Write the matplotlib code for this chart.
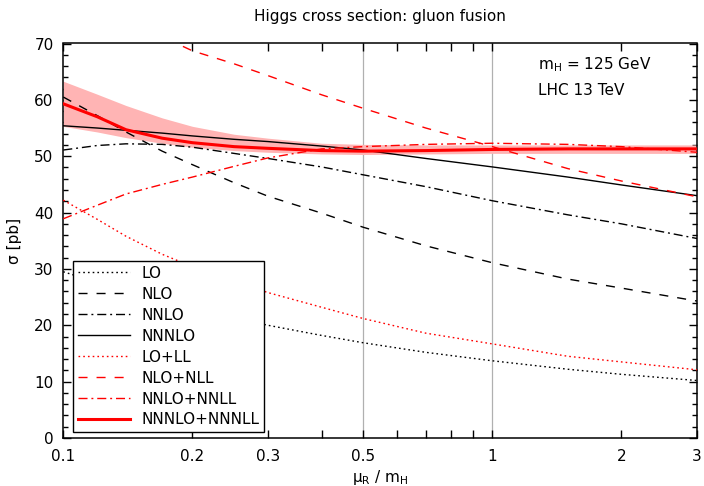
import matplotlib
matplotlib.use('Agg')
import matplotlib.pyplot as plt
from matplotlib.ticker import FixedLocator, NullFormatter, MultipleLocator, FixedFormatter

plt.rcParams['font.family'] = ['DejaVu Sans']
plt.rcParams['font.size'] = 11
plt.rcParams['lines.scale_dashes'] = False

# renormalisation scale mu_R / m_H
mu = [0.1, 0.12, 0.14, 0.17, 0.2, 0.25, 0.3, 0.4, 0.5, 0.7, 1.0, 1.5, 2.0, 3.0]

lo        = [29.5, 27.6, 26.1, 24.4, 23.0, 21.3, 20.0, 18.2, 16.9, 15.2, 13.7, 12.2, 11.3, 10.2]
nlo       = [60.5, 57.2, 54.3, 50.9, 48.5, 45.3, 42.9, 39.9, 37.4, 34.1, 31.1, 28.2, 26.6, 24.3]
nnlo      = [51.1, 51.9, 52.2, 52.1, 51.6, 50.5, 49.6, 48.1, 46.7, 44.6, 42.1, 39.6, 38.0, 35.4]
nnnlo     = [55.4, 55.0, 54.6, 54.1, 53.6, 53.0, 52.6, 51.8, 51.1, 49.6, 48.1, 46.3, 44.9, 43.0]
lo_ll     = [42.2, 38.8, 35.8, 32.6, 30.4, 27.8, 25.8, 23.2, 21.2, 18.6, 16.7, 14.5, 13.5, 12.1]
nlo_nll   = [84.0, 79.0, 75.5, 71.2, 68.7, 66.4, 64.3, 60.9, 58.5, 55.0, 51.7, 47.8, 45.6, 42.8]
nnlo_nnll = [38.9, 41.3, 43.3, 45.0, 46.3, 48.2, 49.7, 51.3, 51.7, 52.1, 52.3, 52.1, 51.7, 50.7]
n3lo_n3ll = [59.3, 57.0, 54.7, 53.2, 52.4, 51.7, 51.4, 51.0, 50.9, 51.0, 51.2, 51.3, 51.3, 51.3]
band_hi   = [63.3, 61.0, 59.0, 56.8, 55.3, 53.9, 53.2, 52.3, 52.1, 52.0, 52.0, 52.0, 52.0, 52.0]
band_lo   = [55.3, 54.3, 53.3, 52.3, 51.6, 51.0, 50.7, 50.4, 50.3, 50.4, 50.5, 50.5, 50.5, 50.5]

labels = ['LO', 'NLO', 'NNLO', 'NNNLO', 'LO+LL', 'NLO+NLL', 'NNLO+NNLL', 'NNNLO+NNNLL']

xticks = [0.1, 0.2, 0.3, 0.5, 1, 2, 3]
xticklabels = ['0.1', '0.2', '0.3', '0.5', '1', '2', '3']
xminor = [0.4, 0.6, 0.7, 0.8, 0.9]

fig = plt.figure(figsize=(7.04, 4.86), dpi=100)
W, H = 704.0, 486.0
L, R, T, B = 63.3, 697.0, 43.5, 438.0
ax = fig.add_axes([L / W, 1 - B / H, (R - L) / W, (B - T) / H])

ax.set_xscale('log')
ax.set_xlim(0.1, 3)
ax.set_ylim(0, 70)

for xv in [0.5, 1.0]:
    ax.axvline(xv, color='#b0b0b0', lw=0.9, zorder=1)

ax.fill_between(mu, band_lo, band_hi, color='#ffb4b4', lw=0, zorder=2)

dot = (0, (1.2, 2.2))
dash = (0, (6.5, 6.5))
dashdot = (0, (6.5, 2.8, 1.4, 2.8))
lw = 1.0
ax.plot(mu, lo, color='black', ls=dot, lw=lw, label=labels[0], zorder=3)
ax.plot(mu, nlo, color='black', ls=dash, lw=lw, label=labels[1], zorder=3)
ax.plot(mu, nnlo, color='black', ls=dashdot, lw=lw, label=labels[2], zorder=3)
ax.plot(mu, nnnlo, color='black', ls='-', lw=lw, label=labels[3], zorder=3)
ax.plot(mu, lo_ll, color='red', ls=dot, lw=lw, label=labels[4], zorder=3)
ax.plot(mu, nlo_nll, color='red', ls=dash, lw=lw, label=labels[5], zorder=3)
ax.plot(mu, nnlo_nnll, color='red', ls=dashdot, lw=lw, label=labels[6], zorder=3)
ax.plot(mu, n3lo_n3ll, color='red', ls='-', lw=2.2, label=labels[7], zorder=4)

ax.xaxis.set_major_locator(FixedLocator(xticks))
ax.xaxis.set_major_formatter(FixedFormatter(xticklabels))
ax.xaxis.set_minor_locator(FixedLocator(xminor))
ax.xaxis.set_minor_formatter(NullFormatter())
ax.yaxis.set_major_locator(MultipleLocator(10))
ax.yaxis.set_minor_locator(MultipleLocator(2))

ax.tick_params(axis='both', which='both', direction='in', top=True, right=True,
               width=1.0, labelsize=11, colors='black')
ax.tick_params(axis='x', which='both', length=6, pad=8)
ax.tick_params(axis='y', which='major', length=6, pad=7)
ax.tick_params(axis='y', which='minor', length=3.6)
for s in ax.spines.values():
    s.set_linewidth(1.1)
    s.set_color('black')

leg = ax.legend(loc='lower left', bbox_to_anchor=(0.016, 0.015), borderaxespad=0,
                fancybox=False, framealpha=1, edgecolor='black', fontsize=11,
                handlelength=3.4, handletextpad=0.75, labelspacing=0.39,
                borderpad=0.3)
leg.get_frame().set_linewidth(1.0)
leg.set_zorder(10)

ax.text((538 - L) / (R - L), 1 - (69 - T) / (B - T), 'm$_\\mathrm{H}$ = 125 GeV',
        transform=ax.transAxes, ha='left', va='baseline', fontsize=11)
ax.text((538 - L) / (R - L), 1 - (95 - T) / (B - T), 'LHC 13 TeV',
        transform=ax.transAxes, ha='left', va='baseline', fontsize=11)

fig.text(380 / W, 1 - 17 / H, 'Higgs cross section: gluon fusion', ha='center', va='center', fontsize=11)
fig.text(380 / W, 1 - 477 / H, 'μ$_\\mathrm{R}$ / m$_\\mathrm{H}$', ha='center', va='center', fontsize=11)
fig.text(15 / W, 1 - 241 / H, 'σ [pb]', ha='center', va='center', rotation=90, fontsize=11)

fig.savefig('out.png', dpi=100)
